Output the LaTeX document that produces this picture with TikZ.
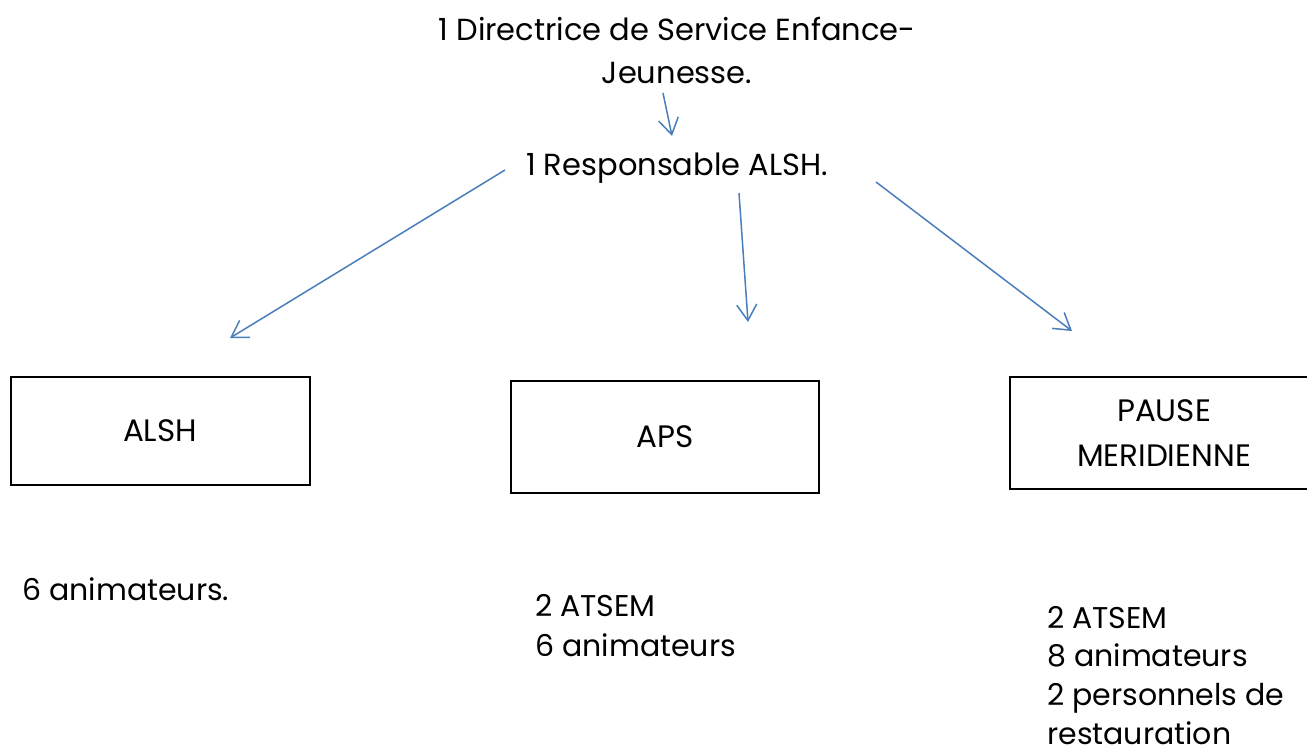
\documentclass[tikz,border=0pt]{standalone}
\usepackage{fontspec}
\setmainfont{Poppins}
\usetikzlibrary{arrows.meta}
\definecolor{arrowblue}{RGB}{74,126,187}
\begin{document}
\begin{tikzpicture}[x=1pt,y=-1pt,
  txt/.style={inner sep=0pt, font=\fontsize{30.5}{43}\selectfont},
  list/.style={inner sep=0pt, align=left, font=\fontsize{30}{39.3}\selectfont},
  unitbox/.style={draw=black, line width=2pt, inner sep=0pt, align=center,
                  font=\fontsize{31}{45}\selectfont},
  conn/.style={draw=arrowblue, line width=1.5pt,
               -{Straight Barb[length=16pt,width=20pt,line width=1.5pt]}}]
\useasboundingbox (0,0) rectangle (1307,753);
\clip (0,0) rectangle (1307,753);
% texts
\node[txt, align=center, anchor=base] (dir) at (677,83) {1 Directrice de Service Enfance-\\Jeunesse.};
\node[txt, anchor=base] (resp) at (677,175) {1 Responsable ALSH.};
% boxes
\node[unitbox, minimum width=299pt, minimum height=108pt] (alsh) at (160,431) {ALSH};
\node[unitbox, minimum width=308pt, minimum height=112pt] (aps) at (665,437) {APS};
\node[unitbox, minimum width=308pt, minimum height=112pt, anchor=west] (pause) at (1009,433) {PAUSE\\MERIDIENNE};
% staff lists
\node[list, anchor=base west] (l1) at (22,600) {6 animateurs.};
\node[list, anchor=base west] (l2) at (535,656) {2 ATSEM\\6 animateurs};
\node[list, anchor=base west, font=\fontsize{30}{38.6}\selectfont] (l3) at (1047,744) {2 ATSEM\\8 animateurs\\2 personnels de\\restauration};
% connector ends
\coordinate (d0) at (663,93);
\coordinate (d1) at (672,136);
\coordinate (r0) at (505,170);
\coordinate (r1) at (230,338);
\coordinate (m0) at (739,193);
\coordinate (m1) at (748,322);
\coordinate (p0) at (876,182);
\coordinate (p1) at (1072,331);
\draw[conn] (d0) -- (d1);
\draw[conn] (r0) -- (r1);
\draw[conn] (m0) -- (m1);
\draw[conn] (p0) -- (p1);
\end{tikzpicture}
\end{document}
